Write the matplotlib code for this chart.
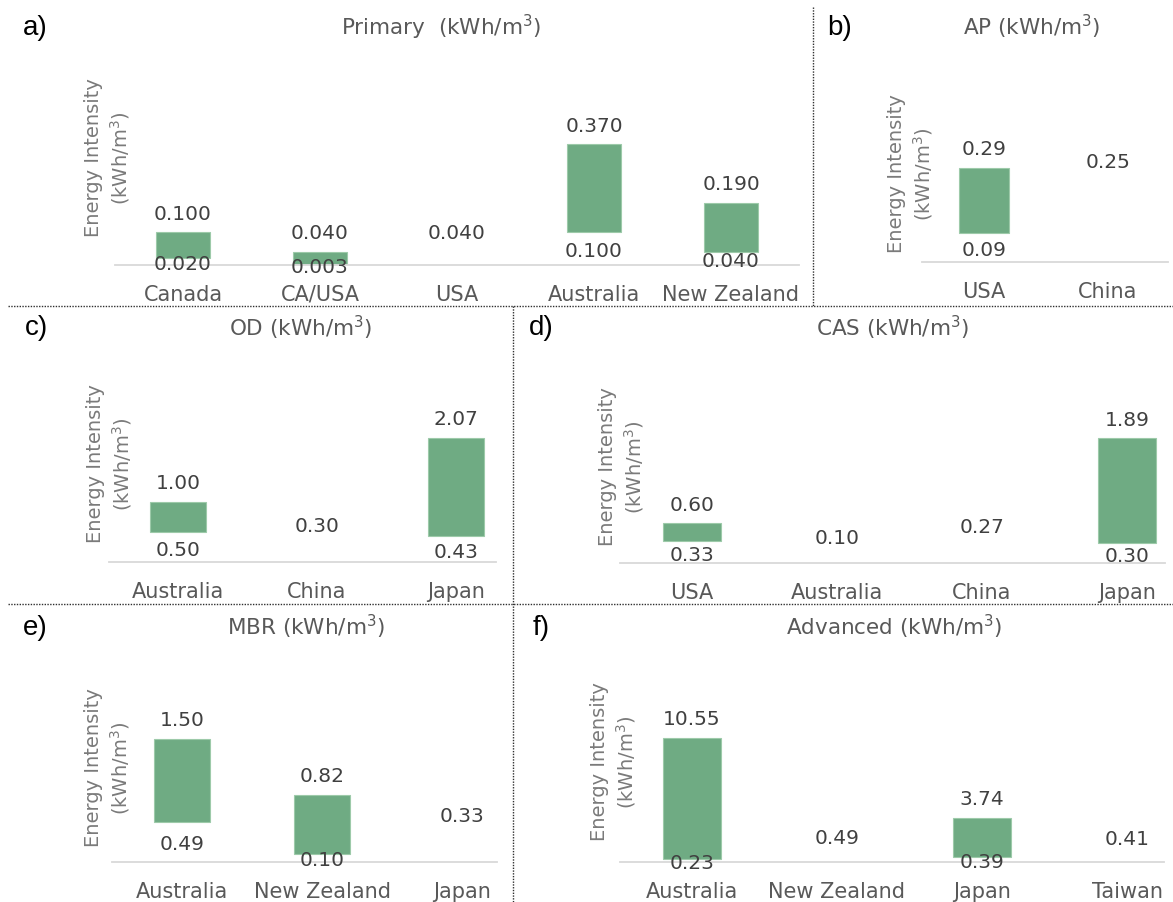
import numpy as np
import matplotlib
matplotlib.use("Agg")
import matplotlib.pyplot as plt
from matplotlib.lines import Line2D

# ---------------- data ----------------
primary_cats = ["Canada", "CA/USA", "USA", "Australia", "New Zealand"]
primary_low = [0.020, 0.003, 0.040, 0.100, 0.040]
primary_high = [0.100, 0.040, 0.040, 0.370, 0.190]

ap_cats = ["USA", "China"]
ap_low = [0.09, 0.25]
ap_high = [0.29, 0.25]

od_cats = ["Australia", "China", "Japan"]
od_low = [0.50, 0.30, 0.43]
od_high = [1.00, 0.30, 2.07]

cas_cats = ["USA", "Australia", "China", "Japan"]
cas_low = [0.33, 0.10, 0.27, 0.30]
cas_high = [0.60, 0.10, 0.27, 1.89]

mbr_cats = ["Australia", "New Zealand", "Japan"]
mbr_low = [0.49, 0.10, 0.33]
mbr_high = [1.50, 0.82, 0.33]

adv_cats = ["Australia", "New Zealand", "Japan", "Taiwan"]
adv_low = [0.23, 0.49, 0.39, 0.41]
adv_high = [10.55, 0.49, 3.74, 0.41]

# ---------------- style / layout ----------------
W, H = 1173, 903
GREEN = "#6FAB83"
BASE = "#D9D9D9"
TXT = "#595959"
VAL = "#404040"
YLAB = "#7A7A7A"
FONT = "DejaVu Sans"
plt.rcParams["font.family"] = [FONT]
plt.rcParams["mathtext.fontset"] = "dejavusans"

fig = plt.figure(figsize=(W / 100, H / 100), dpi=100)
fig.patch.set_facecolor("white")


def fx(px):
    return px / W


def fy(py):
    return 1 - py / H


PT = 72 / 100  # points per pixel

panels = [
    dict(letter="a)", title="Primary  (kWh/m$^3$)", cats=primary_cats, lo=primary_low, hi=primary_high,
         fmt="{:.3f}", c0=183, sp=137, right=799, base=266, ppu=327, ytop=0.5,
         let_xy=(23, 28), title_xy=(441, 27), ylab_xy=(108, 158)),
    dict(letter="b)", title="AP (kWh/m$^3$)", cats=ap_cats, lo=ap_low, hi=ap_high,
         fmt="{:.2f}", c0=984, sp=124, right=1168, base=263, ppu=325, ytop=0.5,
         let_xy=(827, 28), title_xy=(1032, 27), ylab_xy=(911, 174)),
    dict(letter="c)", title="OD (kWh/m$^3$)", cats=od_cats, lo=od_low, hi=od_high,
         fmt="{:.2f}", c0=178, sp=139, right=496, base=563, ppu=60, ytop=2.5,
         let_xy=(25, 328), title_xy=(301, 328), ylab_xy=(110, 464)),
    dict(letter="d)", title="CAS (kWh/m$^3$)", cats=cas_cats, lo=cas_low, hi=cas_high,
         fmt="{:.2f}", c0=692, sp=145, right=1165, base=564, ppu=66, ytop=2.5,
         let_xy=(529, 328), title_xy=(893, 328), ylab_xy=(622, 467)),
    dict(letter="e)", title="MBR (kWh/m$^3$)", cats=mbr_cats, lo=mbr_low, hi=mbr_high,
         fmt="{:.2f}", c0=182, sp=140, right=497, base=863, ppu=82, ytop=2.0,
         let_xy=(23, 628), title_xy=(306, 627), ylab_xy=(108, 768)),
    dict(letter="f)", title="Advanced (kWh/m$^3$)", cats=adv_cats, lo=adv_low, hi=adv_high,
         fmt="{:.2f}", c0=692, sp=145, right=1164, base=863, ppu=11.8, ytop=14,
         let_xy=(533, 628), title_xy=(894, 627), ylab_xy=(614, 762)),
]

for p in panels:
    left = p["c0"] - p["sp"] / 2
    height_px = p["ppu"] * p["ytop"]
    ax = fig.add_axes([fx(left), fy(p["base"]), (p["right"] - left) / W, height_px / H])
    ax.patch.set_alpha(0)
    n = len(p["cats"])
    x = np.arange(n)
    lo = np.array(p["lo"], dtype=float)
    hi = np.array(p["hi"], dtype=float)
    rng = hi - lo
    m = rng > 0
    ax.bar(x[m], rng[m], bottom=lo[m], width=0.4, color=GREEN,
           edgecolor="#9DCAA9", linewidth=0.8, zorder=2)
    for i in range(n):
        ax.annotate(p["fmt"].format(hi[i]), (x[i], hi[i]), xytext=(0, 19 * PT),
                    textcoords="offset points", ha="center", va="center",
                    fontsize=14.5, color=VAL, zorder=3, annotation_clip=False)
        if rng[i] > 0:
            ax.annotate(p["fmt"].format(lo[i]), (x[i], lo[i] / 2), xytext=(0, -2 * PT),
                        textcoords="offset points", ha="center", va="center",
                        fontsize=14.5, color=VAL, zorder=3, annotation_clip=False)
    ax.set_xlim(-0.5, -0.5 + (p["right"] - left) / p["sp"])
    ax.set_ylim(0, p["ytop"])
    ax.set_yticks([])
    ax.set_xticks(x)
    ax.set_xticklabels(p["cats"])
    ax.tick_params(axis="x", length=0, pad=13.5, labelsize=15, labelcolor=TXT)
    for s in ["top", "left", "right"]:
        ax.spines[s].set_visible(False)
    ax.spines["bottom"].set_color(BASE)
    ax.spines["bottom"].set_linewidth(1.3)

    lx, ly = p["let_xy"]
    fig.text(fx(lx), fy(ly), p["letter"], fontsize=20, color="black",
             family="Liberation Sans", ha="left", va="center")
    tx, ty = p["title_xy"]
    fig.text(fx(tx), fy(ty), p["title"], fontsize=15.5, color=TXT, ha="center", va="center")
    yx, yy = p["ylab_xy"]
    fig.text(fx(yx), fy(yy), "Energy Intensity\n(kWh/m$^3$)", fontsize=14, color=YLAB,
             rotation=90, ha="center", va="center", multialignment="center", linespacing=1.3)

# dotted separators
sep_kw = dict(color="#303030", linewidth=1.0, linestyle=(0, (1, 1)))
fig.add_artist(Line2D([fx(8), fx(W)], [fy(307), fy(307)], transform=fig.transFigure, **sep_kw))
fig.add_artist(Line2D([fx(8), fx(W)], [fy(605), fy(605)], transform=fig.transFigure, **sep_kw))
fig.add_artist(Line2D([fx(813), fx(813)], [fy(8), fy(307)], transform=fig.transFigure, **sep_kw))
fig.add_artist(Line2D([fx(513), fx(513)], [fy(307), fy(H)], transform=fig.transFigure, **sep_kw))

fig.savefig("out.png", dpi=100, facecolor="white")
